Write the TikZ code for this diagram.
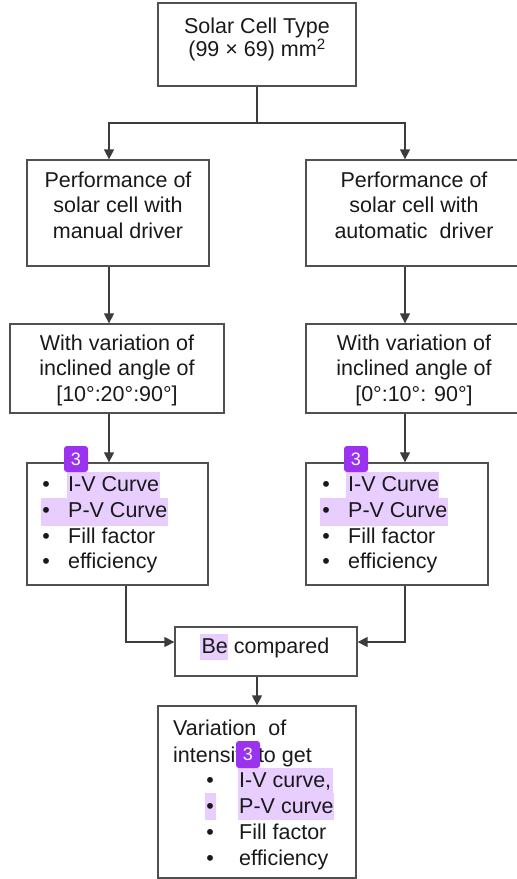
\documentclass[tikz,border=0pt]{standalone}
\usepackage{fontspec}
\setmainfont{Liberation Sans}
\usetikzlibrary{arrows.meta,calc}
\definecolor{ln}{RGB}{60,60,60}
\definecolor{bx}{RGB}{80,80,80}
\definecolor{txtc}{RGB}{25,25,25}
\definecolor{hl}{RGB}{232,206,255}
\definecolor{badge}{RGB}{155,50,240}
\tikzset{
  boxnode/.style={draw=bx, line width=1.3pt, inner sep=0pt},
  txtnode/.style={inner sep=0pt, text=txtc, align=center, anchor=north},
  listnode/.style={inner sep=0pt, text=txtc, align=left, anchor=north west},
  arr/.style={draw=ln, line width=1.4pt, -{Triangle[width=10pt,length=10pt]}},
  lnk/.style={draw=ln, line width=1.4pt},
  hlbox/.style={fill=hl, draw=none},
  badgebox/.style={fill=badge, rounded corners=3pt, text=white, font=\fontsize{18}{18}\selectfont, inner sep=0pt, minimum width=24pt, minimum height=26pt}
}
\newcommand{\bul}[1]{\makebox[#1][l]{•}}
\begin{document}
\begin{tikzpicture}[x=1pt,y=-1pt,font=\fontsize{21.5}{25.7}\selectfont]
\useasboundingbox (0,0) rectangle (517,879);

% highlights
\fill[hlbox] (67,472) rectangle (160,498);
\fill[hlbox] (41,498) rectangle (168,526);
\fill[hlbox] (346,472) rectangle (439,498);
\fill[hlbox] (320,498) rectangle (448,526);
\fill[hlbox] (200,634) rectangle (228,660);
\fill[hlbox] (238,768) rectangle (333,793);
\fill[hlbox] (238,793) rectangle (334,820);
\fill[hlbox] (205,793) rectangle (216,820);

% boxes
\node[boxnode, minimum width=198, minimum height=83] (top) at (257,44.5) {};
\node[boxnode, minimum width=182, minimum height=106] (b2L) at (118,213) {};
\node[boxnode, minimum width=216, minimum height=106] (b2R) at (414,213) {};
\node[boxnode, minimum width=214, minimum height=89] (b3L) at (117,368.5) {};
\node[boxnode, minimum width=216, minimum height=89] (b3R) at (414,368.5) {};
\node[boxnode, minimum width=181, minimum height=122] (b4L) at (117.5,524) {};
\node[boxnode, minimum width=182, minimum height=122] (b4R) at (397,524) {};
\node[boxnode, minimum width=182, minimum height=49] (cmp) at (266,651.5) {};
\node[boxnode, minimum width=198, minimum height=172] (bot) at (257,792) {};

% texts
\node[txtnode, font=\fontsize{21.5}{22.4}\selectfont] (ttop) at (257,17.4) {Solar Cell Type\\(99 × 69) mm\textsuperscript{2}};
\node[txtnode] (t2L) at (118,171.4) {Performance of\\solar cell with\\manual driver};
\node[txtnode] (t2R) at (414,171.4) {Performance of\\solar cell with\\automatic\ \ driver};
\node[txtnode] (t3L) at (117,334.4) {With variation of\\inclined angle of\\{[}10°:20°:90°{]}};
\node[txtnode] (t3R) at (414,334.4) {With variation of\\inclined angle of\\{[}0°:10°: 90°{]}};
\node[listnode] (t4L) at (42.2,476.4) {\bul{25.8pt}I-V Curve\\\bul{25.8pt}P-V Curve\\\bul{25.8pt}Fill factor\\\bul{25.8pt}efficiency};
\node[listnode] (t4R) at (322.2,476.4) {\bul{25.8pt}I-V Curve\\\bul{25.8pt}P-V Curve\\\bul{25.8pt}Fill factor\\\bul{25.8pt}efficiency};
\node[txtnode] (tcmp) at (265.5,637.4) {Be compared};
\node[listnode, font=\fontsize{21.5}{27}\selectfont] (tbh) at (173,719.4) {Variation\ \ of\\intensity to get};
\node[listnode, font=\fontsize{21.5}{26}\selectfont] (tbl) at (206.2,772.4) {\bul{32.8pt}I-V curve,\\\bul{32.8pt}P-V curve\\\bul{32.8pt}Fill factor\\\bul{32.8pt}efficiency};

% connectors
\coordinate (xl) at (109,0);
\coordinate (xr) at (405,0);
\coordinate (xl2) at (126,0);
\coordinate (xm) at (257,0);
\coordinate (ym) at (0,642);
\coordinate (jn) at (257,123);
\draw[lnk] (top.south) -- (jn);
\draw[arr] (jn) -| (b2L.north -| xl);
\draw[arr] (jn) -| (b2R.north -| xr);
\draw[arr] (b2L.south -| xl) -- (b3L.north -| xl);
\draw[arr] (b2R.south -| xr) -- (b3R.north -| xr);
\draw[arr] (b3L.south -| xl) -- (b4L.north -| xl);
\draw[arr] (b3R.south -| xr) -- (b4R.north -| xr);
\draw[arr] (b4L.south -| xl2) |- (cmp.west |- ym);
\draw[arr] (b4R.south -| xr) |- (cmp.east |- ym);
\draw[arr] (cmp.south -| xm) -- (bot.north -| xm);

% badges
\node[badgebox] (bgL) at (76,459) {3};
\node[badgebox] (bgR) at (356,459) {3};
\node[badgebox, minimum height=27pt] (bgB) at (248,754.5) {3};
\end{tikzpicture}
\end{document}
